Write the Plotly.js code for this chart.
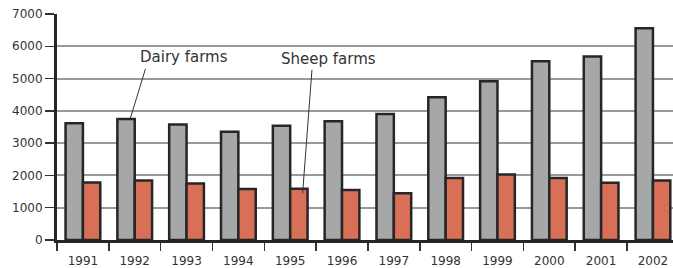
<!DOCTYPE html>
<html><head><meta charset="utf-8">
<script src="https://cdn.plot.ly/plotly-3.0.1.min.js"></script>
<style>html,body{margin:0;padding:0;background:#fff}#c{width:673px;height:268px}</style>
</head><body><div id="c"></div>
<script>
const years = ['1991','1992','1993','1994','1995','1996','1997','1998','1999','2000','2001','2002'];
const dairyFarms = [3620, 3750, 3580, 3350, 3540, 3680, 3900, 4420, 4920, 5540, 5680, 6560];
const sheepFarms = [1780, 1840, 1750, 1580, 1590, 1550, 1450, 1920, 2030, 1920, 1770, 1840];
const yTicks = [0, 1000, 2000, 3000, 4000, 5000, 6000, 7000];

const outline = {color: '#262626', width: 2.5};
const data = [
  {type: 'bar', name: 'Dairy farms', x: years, y: dairyFarms,
   marker: {color: '#a6a7a9', line: outline}},
  {type: 'bar', name: 'Sheep farms', x: years, y: sheepFarms,
   marker: {color: '#d86f57', line: outline}}
];
const font = {family: 'DejaVu Sans, Verdana, sans-serif', size: 12, color: '#333'};
const layout = {
  width: 673, height: 268,
  margin: {l: 57, r: 0, t: 14, b: 28, pad: 0},
  paper_bgcolor: '#fff', plot_bgcolor: '#fff',
  showlegend: false,
  barmode: 'group', bargap: 0.33, bargroupgap: 0,
  font: font,
  xaxis: {type: 'category', range: [-0.5, 11.387], tickson: 'boundaries',
    ticks: 'outside', ticklen: 8, tickwidth: 1.5, tickcolor: '#333',
    ticklabelstandoff: 8,
    showline: true, linecolor: '#262626', linewidth: 2.5,
    showgrid: false, fixedrange: true, tickfont: font},
  yaxis: {range: [0, 7000], tickvals: yTicks, ticktext: yTicks.map(String),
    ticks: 'outside', ticklen: 9, tickwidth: 1.5, tickcolor: '#333',
    showline: true, linecolor: '#262626', linewidth: 3,
    showgrid: true, gridcolor: '#999', gridwidth: 2, zeroline: false,
    fixedrange: true, tickfont: font},
  annotations: [
    {text: 'Dairy farms', xref: 'x', yref: 'y', x: 1.95, y: 5680, showarrow: false,
     font: {family: 'DejaVu Sans, Verdana, sans-serif', size: 15, color: '#333'}},
    {text: 'Sheep farms', xref: 'x', yref: 'y', x: 4.73, y: 5614, showarrow: false,
     font: {family: 'DejaVu Sans, Verdana, sans-serif', size: 15, color: '#333'}}
  ],
  shapes: [
    {type: 'line', xref: 'x', yref: 'y', x0: 1.207, y0: 5300, x1: 0.917, y1: 3780,
     line: {color: '#333', width: 1}},
    {type: 'line', xref: 'x', yref: 'y', x0: 4.42, y0: 5270, x1: 4.24, y1: 1450,
     line: {color: '#333', width: 1}}
  ]
};
Plotly.newPlot('c', data, layout, {displayModeBar: false, staticPlot: true});
</script>
</body></html>
